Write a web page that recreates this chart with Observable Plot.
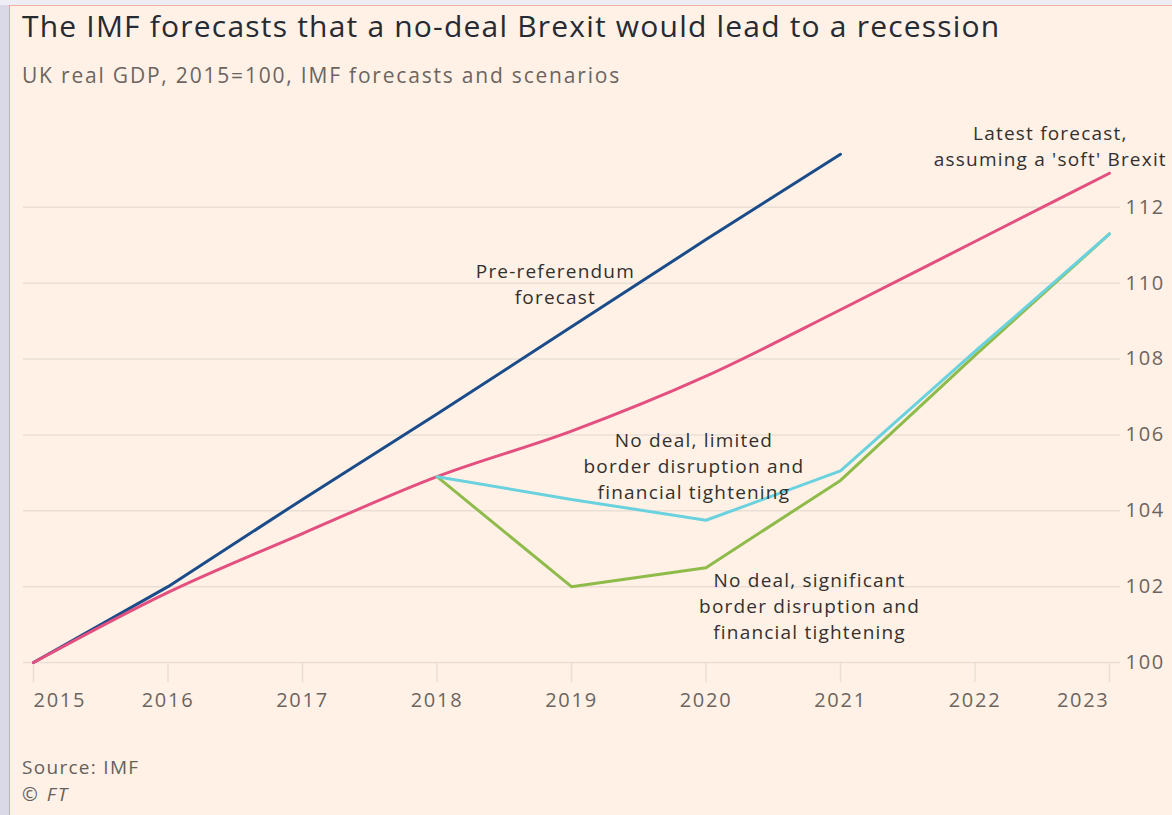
<!DOCTYPE html>
<html>
<head>
<meta charset="utf-8">
<script src="https://cdn.jsdelivr.net/npm/d3@7"></script>
<script src="https://cdn.jsdelivr.net/npm/@observablehq/plot@0.6"></script>
<style>
  html, body { margin: 0; padding: 0; }
  body { width: 1172px; height: 815px; background: #d9d9e8; position: relative; overflow: hidden; font-family: "Open Sans", "Noto Sans", sans-serif; }
  #topstrip { position: absolute; left: 0; top: 0; width: 1172px; height: 5px; background: #eeedf3; }
  #frame { position: absolute; left: 9px; top: 5px; width: 1163px; height: 810px; background: #fff1e6; border-left: 1px solid #ef9f98; border-top: 1px solid #efb0a8; box-sizing: border-box; }
  .abs { position: absolute; white-space: nowrap; }
  #title { left: 22px; top: 5px; font-size: 30px; letter-spacing: 1.2px; color: #262a33; }
  #subtitle { left: 22px; top: 61px; font-size: 21px; letter-spacing: 1.8px; color: #6b6561; }
  #source { left: 22px; top: 754px; font-size: 19px; letter-spacing: 1.3px; color: #66605c; }
  #ft { left: 22px; top: 781px; font-size: 19px; letter-spacing: 2px; color: #66605c; font-style: italic; }
  #chart { position: absolute; left: 0; top: 100px; }
</style>
</head>
<body>
<div id="topstrip"></div>
<div id="frame"></div>
<div class="abs" id="title">The IMF forecasts that a no-deal Brexit would lead to a recession</div>
<div class="abs" id="subtitle">UK real GDP, 2015=100, IMF forecasts and scenarios</div>
<div id="chart"></div>
<div class="abs" id="source">Source: IMF</div>
<div class="abs" id="ft">© FT</div>
<script>
const years = [2015, 2016, 2017, 2018, 2019, 2020, 2021, 2022, 2023];
const preReferendum = [100, 102.0, 104.3, 106.55, 108.85, 111.15, 113.4];          // 2015–2021
const latestForecast = [100, 101.85, 103.4, 104.9, 106.1, 107.55, 109.3, 111.1, 112.9]; // 2015–2023
const scenarioYears = [2018, 2019, 2020, 2021, 2022, 2023];
const noDealLimited = [104.9, 104.3, 103.75, 105.05, 108.2, 111.3];
const noDealSignificant = [104.9, 102.0, 102.5, 104.8, 108.1, 111.3];
const yTicks = [100, 102, 104, 106, 108, 110, 112];

const labelTexts = ["Pre-referendum\nforecast", "Latest forecast,\nassuming a 'soft' Brexit", "No deal, limited\nborder disruption and\nfinancial tightening", "No deal, significant\nborder disruption and\nfinancial tightening"];
const labelX = [2018.88, 2022.56, 2019.91, 2020.77];
const labelY = [110.02, 113.66, 105.22, 101.53];

const series = (name, xs, vs) => vs.map((v, i) => ({series: name, year: xs[i], value: v}));
const pre = series("Pre-referendum forecast", years, preReferendum);
const latest = series("Latest forecast", years, latestForecast);
const limited = series("No deal, limited", scenarioYears, noDealLimited);
const significant = series("No deal, significant", scenarioYears, noDealSignificant);
const labels = labelTexts.map((t, i) => ({text: t, x: labelX[i], y: labelY[i]}));

const gridColor = "#e9dfd5";
const textColor = "#6b6561";
const tickFont = 20;

const chart = Plot.plot({
  width: 1172,
  height: 622,
  marginLeft: 33,
  marginRight: 63,
  marginTop: 31,
  marginBottom: 60,
  style: {background: "transparent", fontFamily: "'Open Sans', 'Noto Sans', sans-serif", overflow: "visible", letterSpacing: "1.7px"},
  x: {domain: [2015, 2023], label: null},
  y: {domain: [100, 114], label: null},
  marks: [
    Plot.ruleY(yTicks, {stroke: gridColor, strokeWidth: 1.5, insetLeft: -10, insetRight: -11}),
    Plot.ruleX(years, {y1: 100, y2: 100, stroke: gridColor, strokeWidth: 1.5, insetBottom: -20}),
    Plot.axisX([2015], {anchor: "bottom", tickSize: 0, tickPadding: 30, textAnchor: "start", fontSize: tickFont, fill: textColor, tickFormat: d => String(d)}),
    Plot.axisX(years.slice(1, -1), {anchor: "bottom", tickSize: 0, tickPadding: 30, fontSize: tickFont, fill: textColor, tickFormat: d => String(d)}),
    Plot.axisX([2023], {anchor: "bottom", tickSize: 0, tickPadding: 30, textAnchor: "end", fontSize: tickFont, fill: textColor, tickFormat: d => String(d)}),
    Plot.axisY(yTicks, {anchor: "right", tickSize: 0, tickPadding: 16, textAnchor: "start", fontSize: tickFont, fill: textColor}),
    Plot.line(pre, {x: "year", y: "value", stroke: "#1b4c8a", strokeWidth: 3}),
    Plot.line(latest, {x: "year", y: "value", stroke: "#e3507f", strokeWidth: 3, curve: "monotone-x"}),
    Plot.line(significant, {x: "year", y: "value", stroke: "#8fbb4a", strokeWidth: 3}),
    Plot.line(limited, {x: "year", y: "value", stroke: "#6ad2de", strokeWidth: 3}),
    Plot.text(labels, {x: "x", y: "y", text: "text", fontSize: 19, fill: "#33302e", lineHeight: 1.37, lineAnchor: "middle", textAnchor: "middle", style: "letter-spacing:1.2px"})
  ]
});
chart.querySelectorAll("g[aria-label='text'] text").forEach(t => t.style.letterSpacing = "1.2px");
document.getElementById("chart").appendChild(chart);
</script>
</body>
</html>
